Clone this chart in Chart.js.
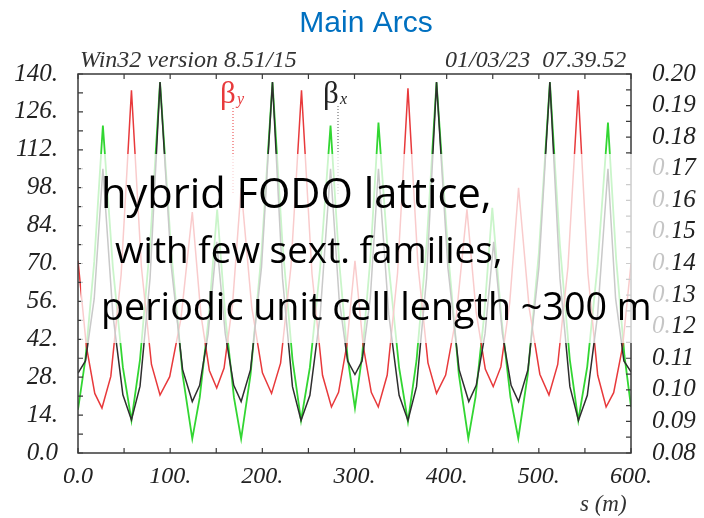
<!DOCTYPE html>
<html>
<head>
<meta charset="utf-8">
<title>Main Arcs</title>
<script src="https://cdn.jsdelivr.net/npm/chart.js@4.4.0/dist/chart.umd.min.js"></script>
<style>
  html, body { margin: 0; padding: 0; background: #fff; }
  #wrap { width: 704px; height: 518px; }
</style>
</head>
<body>
<div id="wrap"><canvas id="optics" width="704" height="518"></canvas></div>
<script>
// beta_x (black), s in m
const sX = [0, 8.1, 17.6, 27, 37.8, 48.7, 58, 67.3, 78.2, 89, 101.3, 113.5, 124, 132, 141.2, 150.5, 159.8, 169, 177, 187.2, 199.1, 211, 221.9, 232.7, 242, 251.6, 262.8, 274, 283.3, 292.5, 300.5, 308.2, 317.1, 326, 337.2, 348.4, 358, 367.3, 378.2, 389, 401.3, 413.5, 424, 432.1, 441.6, 451, 460.5, 469.9, 478, 488.2, 500.1, 512, 522.9, 533.7, 543, 552.6, 563.8, 575, 583.3, 592.3, 600];
const betaX = [29.5, 34, 57, 105, 51.2, 21.5, 12.2, 24.7, 64.6, 137, 68.6, 30.8, 19, 25, 44, 78, 44, 25, 19, 30.8, 68.6, 137, 64.5, 24.5, 12, 21.3, 51.1, 105, 57, 34, 29, 34, 57, 105, 51.1, 21.3, 12, 24.5, 64.5, 137, 68.6, 30.8, 19, 25, 44, 78, 44, 25, 19, 30.8, 68.6, 137, 64.5, 24.5, 12, 21.3, 51.1, 105, 57, 34, 30];

// beta_y (red)
const sY = [0, 9.1, 18.2, 26, 35.6, 46.8, 58, 68.8, 79.7, 89, 99.5, 111.8, 124, 133.3, 142.5, 150.5, 158.5, 167.7, 177, 188.5, 200.1, 210, 219.8, 231.1, 242.5, 253.9, 265.3, 275, 282.7, 291.6, 300.5, 309.4, 318.2, 325.8, 335.5, 346.7, 358, 368.9, 379.7, 389, 398.9, 410.5, 422, 432, 441.9, 450.5, 458.8, 468.4, 478, 489.5, 501.1, 511, 520.5, 531.6, 542.7, 553.3, 563.9, 573, 581.2, 590.9, 600];
const betaY = [71, 39.4, 22.0, 16.6, 28.3, 65.9, 134, 68.7, 32.7, 21.4, 28.2, 49.8, 89, 51.3, 30.5, 24, 31.4, 55.1, 98, 53.9, 29.6, 22, 33.2, 69, 134, 66.1, 28.7, 17, 22.4, 39.7, 71, 39.7, 22.4, 17, 28.8, 66.4, 134.7, 69.3, 33.3, 22, 28.8, 50.6, 90, 52, 31, 24.5, 31.8, 55.4, 98, 53.6, 29.1, 21.4, 32.7, 68.7, 134, 66.1, 28.7, 17, 22.3, 39.3, 70];

// dispersion (green), right axis
const sD = [0, 8.1, 17.6, 27, 37.8, 48.7, 58, 67.3, 78.2, 89, 101.3, 113.5, 124, 132.1, 141.6, 151, 160.1, 169.2, 177, 187.2, 199.1, 211, 221.9, 232.7, 242, 251.6, 262.8, 274, 283.3, 292.5, 300.5, 308.2, 317.1, 326, 337.2, 348.4, 358, 367.3, 378.2, 389, 401.6, 413.2, 423.5, 431.3, 440.4, 449.5, 459.4, 469.2, 477.7, 488, 500, 512, 522.8, 533.6, 542.8, 552.5, 563.7, 575, 583.9, 592.9, 600];
const dispD = [0.0937, 0.1099, 0.1405, 0.1837, 0.1389, 0.1071, 0.0903, 0.1096, 0.146, 0.1974, 0.1432, 0.1048, 0.0845, 0.0976, 0.1223, 0.1571, 0.1223, 0.0976, 0.0845, 0.1048, 0.1432, 0.1974, 0.146, 0.1096, 0.0903, 0.1071, 0.1389, 0.1837, 0.1408, 0.1103, 0.0942, 0.1105, 0.1412, 0.1846, 0.1391, 0.107, 0.0899, 0.1093, 0.1458, 0.1974, 0.1432, 0.1049, 0.0846, 0.0977, 0.1226, 0.1576, 0.1226, 0.0977, 0.0846, 0.1049, 0.1432, 0.1974, 0.146, 0.1096, 0.0903, 0.1073, 0.1393, 0.1846, 0.1414, 0.1108, 0.0946];

// axis limits
const sRange = [0, 600];
const betaRange = [0, 140];
const dispRange = [0.08, 0.20];

// overlay text lines
const noteLines = ['hybrid FODO lattice,', 'with few sext. families,', 'periodic unit cell length ~300 m'];

const toPoints = (xs, ys) => xs.map((x, i) => ({ x: x, y: ys[i] }));
const serif = size => ({ family: "'Liberation Serif', 'DejaVu Serif', serif", style: 'italic', size: size });

// draw a line of text scaled to a given width
function fitText(c, text, x, y, width) {
    const fam = "'Open Sans', Lato, sans-serif";
    c.font = '40px ' + fam;
    const size = 40 * width / c.measureText(text).width;
    c.font = size.toFixed(1) + 'px ' + fam;
    c.fillText(text, x, y);
}

const decor = {
    id: 'decor',
    beforeDraw(chart) {
        const c = chart.ctx;
        c.save();
        c.fillStyle = '#fff';
        c.fillRect(0, 0, chart.width, chart.height);
        c.restore();
    },
    afterDatasetsDraw(chart) {
        const c = chart.ctx, a = chart.chartArea;
        const sx = chart.scales.x, sy = chart.scales.y, sy2 = chart.scales.y2;
        c.save();
        // frame
        c.strokeStyle = '#3a3a3a';
        c.lineWidth = 1.5;
        c.strokeRect(a.left, a.top, a.right - a.left, a.bottom - a.top);
        // inward ticks
        c.lineWidth = 1.2;
        c.beginPath();
        for (let v = sRange[0]; v <= sRange[1]; v += 50) {
            const px = sx.getPixelForValue(v);
            c.moveTo(px, a.bottom); c.lineTo(px, a.bottom - 5);
            c.moveTo(px, a.top); c.lineTo(px, a.top + 5);
        }
        for (let v = betaRange[0]; v <= betaRange[1]; v += 7) {
            const py = sy.getPixelForValue(v);
            c.moveTo(a.left, py); c.lineTo(a.left + 5, py);
        }
        for (let k = 0; k <= 24; k++) {
            const py = sy2.getPixelForValue(dispRange[0] + k * 0.005);
            c.moveTo(a.right, py); c.lineTo(a.right - 5, py);
        }
        c.stroke();

        // beta labels with dotted markers
        c.setLineDash([1, 2]);
        c.lineWidth = 1;
        c.strokeStyle = '#e8393b';
        c.beginPath(); c.moveTo(233, 108); c.lineTo(233, 195); c.stroke();
        c.strokeStyle = '#555';
        c.beginPath(); c.moveTo(338, 106); c.lineTo(338, 195); c.stroke();
        c.setLineDash([]);
        c.font = "31px 'Liberation Serif', serif";
        c.textBaseline = 'alphabetic';
        c.fillStyle = '#e8393b';
        c.fillText('β', 220, 103);
        c.fillStyle = '#222';
        c.fillText('β', 323, 103);
        c.font = "italic 16px 'Liberation Serif', serif";
        c.fillStyle = '#e8393b';
        c.fillText('y', 237, 104);
        c.fillStyle = '#222';
        c.fillText('x', 340, 104);
        c.restore();
    },
    afterDraw(chart) {
        const c = chart.ctx;
        c.save();
        // translucent box behind the note
        c.fillStyle = 'rgba(255,255,255,0.74)';
        c.fillRect(81, 154, 592, 189);
        c.fillStyle = '#000';
        c.textBaseline = 'alphabetic';
        fitText(c, noteLines[0], 101, 208, 391);
        fitText(c, noteLines[1], 115, 263, 388);
        fitText(c, noteLines[2], 101, 320, 551);

        // title and header
        c.fillStyle = '#0070c0';
        c.textAlign = 'center';
        c.font = "30px 'Liberation Sans', Arial, sans-serif";
        c.fillText('Main Arcs', 366, 32);
        c.textAlign = 'left';
        c.fillStyle = '#333';
        c.font = "italic 24px 'Liberation Serif', serif";
        c.fillText('Win32 version 8.51/15', 80, 67);
        c.fillText('01/03/23  07.39.52', 445, 67);
        c.font = "italic 23px 'Liberation Serif', serif";
        c.fillText('s (m)', 580, 511);
        c.restore();
    }
};

const ctx = document.getElementById('optics').getContext('2d');
new Chart(ctx, {
    type: 'line',
    data: {
        datasets: [
            { label: 'betx', data: toPoints(sX, betaX), yAxisID: 'y', borderColor: '#2e2e2e', borderWidth: 1.5 },
            { label: 'bety', data: toPoints(sY, betaY), yAxisID: 'y', borderColor: '#e8393b', borderWidth: 1.5 },
            { label: 'dx', data: toPoints(sD, dispD), yAxisID: 'y2', borderColor: '#32d632', borderWidth: 1.8 }
        ]
    },
    options: {
        responsive: false,
        animation: false,
        devicePixelRatio: 1,
        parsing: false,
        elements: { point: { radius: 0 }, line: { tension: 0, fill: false } },
        layout: { padding: { top: 74, left: 0, right: 0, bottom: 0 } },
        plugins: { legend: { display: false }, tooltip: { enabled: false }, title: { display: false } },
        scales: {
            x: {
                type: 'linear', min: sRange[0], max: sRange[1],
                grid: { display: false, drawTicks: false }, border: { display: false },
                ticks: { stepSize: 100, autoSkip: false, maxRotation: 0, padding: 9, color: '#222', font: serif(24),
                    callback: v => v === 0 ? '0.0' : v + '.' },
                afterFit: s => { s.height = 65; }
            },
            y: {
                position: 'left', min: betaRange[0], max: betaRange[1],
                grid: { display: false, drawTicks: false }, border: { display: false },
                ticks: { stepSize: 14, autoSkip: false, padding: 20, color: '#222', font: serif(25),
                    callback: v => v === 0 ? '0.0' : v + '.' },
                afterFit: s => { s.width = 78; }
            },
            y2: {
                position: 'right', min: dispRange[0], max: dispRange[1],
                grid: { display: false, drawTicks: false }, border: { display: false },
                ticks: { stepSize: 0.01, autoSkip: false, padding: 21, color: '#222', font: serif(25),
                    callback: v => v.toFixed(2) },
                afterFit: s => { s.width = 73; }
            }
        }
    },
    plugins: [decor]
});
</script>
</body>
</html>
